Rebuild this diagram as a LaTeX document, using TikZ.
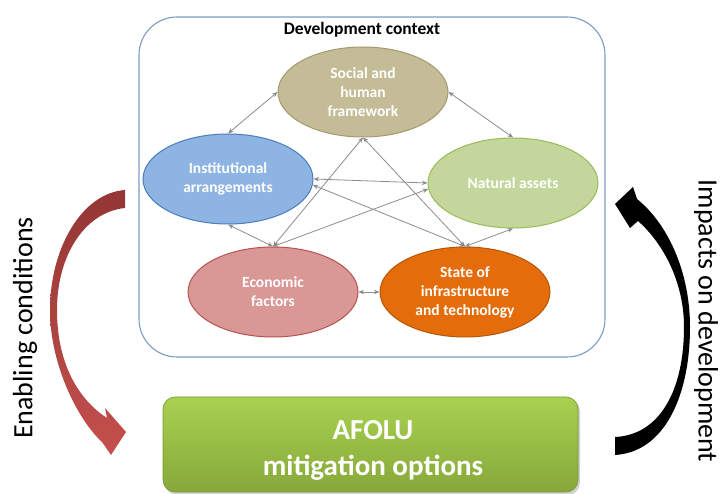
\documentclass[tikz,border=0pt]{standalone}
\usepackage{fontspec}
\setmainfont{Carlito}
\usetikzlibrary{shapes.geometric,arrows.meta}

\definecolor{frameblue}{HTML}{7F9CC4}
\definecolor{linkgrey}{HTML}{8C8C8C}
\definecolor{socfill}{HTML}{C4BC96}
\definecolor{socline}{HTML}{A39A6E}
\definecolor{instfill}{HTML}{8EB4E3}
\definecolor{instline}{HTML}{4A7EBB}
\definecolor{natfill}{HTML}{C3D69B}
\definecolor{natline}{HTML}{9BBB59}
\definecolor{ecofill}{HTML}{D99795}
\definecolor{ecoline}{HTML}{B85450}
\definecolor{stfill}{HTML}{E46C0A}
\definecolor{stline}{HTML}{B65708}
\definecolor{greentop}{HTML}{A9D150}
\definecolor{greenbot}{HTML}{86A83A}
\definecolor{redtop}{HTML}{943634}
\definecolor{redbot}{HTML}{C4504D}

\tikzset{
  factor/.style={ellipse, draw=#1line, fill=#1fill, line width=1pt,
    minimum width=170pt, minimum height=90pt, inner sep=0pt,
    text=white, align=center, font=\bfseries\fontsize{15.5}{19}\selectfont},
  link/.style={draw=linkgrey, line width=0.8pt,
    {Stealth[length=5.5pt,width=4.5pt]}-{Stealth[length=5.5pt,width=4.5pt]}},
  context/.style={draw=frameblue, line width=1.1pt, fill=white,
    rounded corners=38pt, minimum width=466pt, minimum height=340pt},
  titletext/.style={font=\bfseries\fontsize{17.5}{20}\selectfont},
  sidetext/.style={font=\fontsize{28}{32}\selectfont, inner sep=0pt},
  afolubox/.style={rounded corners=12pt, minimum width=415pt,
    minimum height=95pt, top color=greentop, bottom color=greenbot,
    draw=greenbot!90!black, line width=0.6pt},
  afolutext/.style={text=white, align=center,
    font=\bfseries\fontsize{29}{36}\selectfont}
}

\begin{document}
\begin{tikzpicture}[x=1pt,y=-1pt]
  \useasboundingbox (0,0) rectangle (721,494);

  % development context frame
  \node[context] (frame) at (372,187) {};
  \node[titletext] (title) at (362,30) {Development context};

  % the five development factors
  \node[factor=soc]  (soc)  at (363,92)  {Social and\\human\\framework};
  \node[factor=inst] (inst) at (228,179) {Institutional\\arrangements};
  \node[factor=nat]  (nat)  at (513,183) {Natural assets};
  \node[factor=eco]  (eco)  at (273,292) {Economic\\factors};
  \node[factor=st]   (st)   at (465,292) {State of\\infrastructure\\and technology};

  % links between the factors
  \draw[link] (soc.180) -- (inst.90);
  \draw[link] (soc.0) -- (nat.90);
  \draw[link] (inst.0) -- (nat.180);
  \draw[link] (inst.270) -- (eco.90);
  \draw[link] (soc.270) -- (eco.90);
  \draw[link] (soc.270) -- (st.90);
  \draw[link] (inst.-4) -- (st.90);
  \draw[link] (nat.184) -- (eco.90);
  \draw[link] (st.90) -- (nat.270);
  \draw[link] (eco.0) -- (st.180);

  % mitigation options box
  \fill[black!18, rounded corners=12pt] (165,399) rectangle (580,495);
  \node[afolubox] (afolu) at (370.5,444.5) {};
  \node[afolutext] (afolulbl) at (373,450) {AFOLU\\mitigation options};

  % enabling conditions arrow (left)
  \coordinate (redtip) at (126,432);
  \shade[top color=redtop, bottom color=redbot]
    (125,190) .. controls (82,193) and (50,248) .. (50,310)
    .. controls (50,365) and (78,420) .. (102,442)
    -- (111,455) -- (redtip) -- (105,408) -- (107,418)
    .. controls (82,402) and (57,368) .. (57,310)
    .. controls (57,255) and (85,212) .. (125,208) -- cycle;
  \node[sidetext, rotate=90] (enabling) at (25,328) {Enabling conditions};

  % impacts on development arrow (right)
  \coordinate (blktip) at (615,204);
  \fill[black]
    (615,455) .. controls (665,452) and (690,395) .. (690,327)
    .. controls (690,272) and (668,224) .. (637,199)
    -- (633,187) -- (blktip) -- (630,228) -- (638,221)
    .. controls (664,244) and (684,283) .. (684,327)
    .. controls (684,390) and (660,435) .. (615,437) -- cycle;
  \node[sidetext, rotate=-90] (impacts) at (706,321) {Impacts on development};
\end{tikzpicture}
\end{document}
